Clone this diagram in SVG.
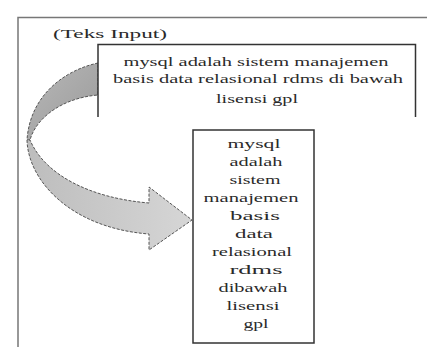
<svg xmlns="http://www.w3.org/2000/svg" width="427" height="347" viewBox="0 0 427 347">
<defs>
<linearGradient id="gTop" x1="0" y1="0" x2="1" y2="1">
<stop offset="0" stop-color="#b8b8b8"/>
<stop offset="1" stop-color="#9a9a9a"/>
</linearGradient>
<linearGradient id="gBot" x1="0" y1="0" x2="1" y2="0">
<stop offset="0" stop-color="#bdbdbd"/>
<stop offset="1" stop-color="#d6d6d6"/>
</linearGradient>
</defs>
<style>
.frame{fill:none;stroke:#777;stroke-width:1.5}
.box{fill:#fff;stroke:#333;stroke-width:1.5}
text{font-family:'Liberation Serif','DejaVu Serif',serif;font-size:13px;fill:#2a2a2a}
.t{text-anchor:middle}
.arrow{stroke:#555;stroke-width:1;stroke-dasharray:3 1.5}
</style>
<rect width="427" height="347" fill="#fff"/>
<g id="frame">
<path class="frame" d="M18,350 V17.5 H430"/>
<text x="53" y="38" textLength="114" lengthAdjust="spacingAndGlyphs">(Teks Input)</text>
</g>
<g id="connectors">
<path class="arrow" fill="url(#gTop)" d="M98,63 C65,70 30,95 27,140 L30,140 C36,118 62,98 98,95 Z"/>
<path class="arrow" fill="url(#gBot)" d="M27,140 C28,180 70,228 149,234 L149,250 L192,220 L149,187 L149,203 C90,198 45,175 30,140 Z"/>
</g>
<g id="input">
<path class="box" d="M98,117 V44.5 H415.5 V117"/>
<text class="t" x="256" y="66" textLength="265" lengthAdjust="spacingAndGlyphs">mysql adalah sistem manajemen</text>
<text class="t" x="258" y="83" textLength="290" lengthAdjust="spacingAndGlyphs">basis data relasional rdms di bawah</text>
<text class="t" x="257" y="103" textLength="82" lengthAdjust="spacingAndGlyphs">lisensi gpl</text>
</g>
<g id="output">
<rect class="box" x="193" y="130" width="121" height="213"/>
<text class="t" x="254" y="148" textLength="53" lengthAdjust="spacingAndGlyphs">mysql</text>
<text class="t" x="256" y="166" textLength="53" lengthAdjust="spacingAndGlyphs">adalah</text>
<text class="t" x="255" y="184" textLength="51" lengthAdjust="spacingAndGlyphs">sistem</text>
<text class="t" x="251" y="202" textLength="95" lengthAdjust="spacingAndGlyphs">manajemen</text>
<text class="t" x="255" y="220" textLength="50" lengthAdjust="spacingAndGlyphs">basis</text>
<text class="t" x="254" y="238" textLength="38" lengthAdjust="spacingAndGlyphs">data</text>
<text class="t" x="252" y="256" textLength="80" lengthAdjust="spacingAndGlyphs">relasional</text>
<text class="t" x="256" y="274" textLength="53" lengthAdjust="spacingAndGlyphs">rdms</text>
<text class="t" x="253" y="292" textLength="69" lengthAdjust="spacingAndGlyphs">dibawah</text>
<text class="t" x="253" y="310" textLength="53" lengthAdjust="spacingAndGlyphs">lisensi</text>
<text class="t" x="256" y="328" textLength="25" lengthAdjust="spacingAndGlyphs">gpl</text>
</g>
</svg>
